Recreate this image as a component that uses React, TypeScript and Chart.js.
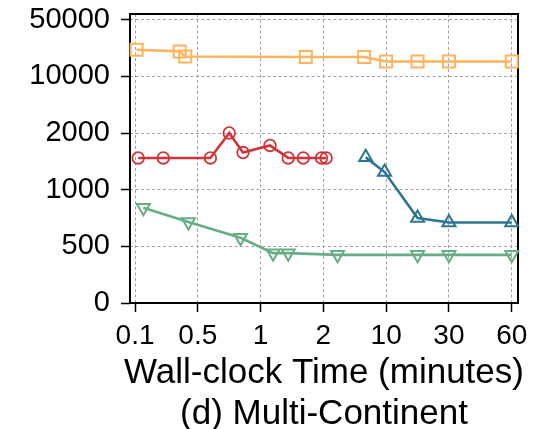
import React, { useEffect, useRef } from "react";
import { Chart, registerables, LinearScale } from "chart.js";

Chart.register(...registerables);

// ---- data ----
const X_TICKS = [0.1, 0.5, 1, 2, 10, 30, 60];
const Y_TICKS = [0, 500, 1000, 2000, 10000, 50000];

const TITLE_LINE1 = "Wall-clock Time (minutes)";
const TITLE_LINE2 = "(d) Multi-Continent";

const orangeX = [0.11, 0.385, 0.42, 1.72, 7.2, 10, 20, 30, 60];
const orangeY = [28800, 27600, 24000, 23600, 23600, 20500, 20500, 20500, 20500];

const redX = [0.12, 0.28, 0.6, 0.75, 0.86, 1.15, 1.44, 1.68, 1.97, 2.35];
const redY = [1560, 1560, 1560, 2000, 1655, 1780, 1560, 1560, 1560, 1560];

const tealX = [7.4, 9.8, 20, 30, 60];
const tealY = [1570, 1310, 750, 710, 710];

const greenX = [0.153, 0.44, 0.84, 1.2, 1.44, 3.8, 20, 30, 60];
const greenY = [840, 715, 575, 440, 440, 425, 425, 425, 425];

const BREAKS: Record<string, number[]> = { x: X_TICKS, y: Y_TICKS };

function toIdx(v: number, b: number[]): number {
  const n = b.length;
  if (v <= b[0]) return (v - b[0]) / (b[1] - b[0]);
  for (let i = 0; i < n - 1; i++) {
    if (v <= b[i + 1]) return i + (v - b[i]) / (b[i + 1] - b[i]);
  }
  return n - 1 + (v - b[n - 1]) / (b[n - 1] - b[n - 2]);
}
function fromIdx(t: number, b: number[]): number {
  const n = b.length;
  if (t <= 0) return b[0] + t * (b[1] - b[0]);
  if (t >= n - 1) return b[n - 1] + (t - (n - 1)) * (b[n - 1] - b[n - 2]);
  const i = Math.floor(t);
  return b[i] + (t - i) * (b[i + 1] - b[i]);
}

class PiecewiseScale extends LinearScale {
  static id = "piecewise";
  static defaults = {};
  buildTicks() {
    const s: any = this;
    const b = BREAKS[s.id];
    return b.filter((v) => v >= s.min - 1e-9 && v <= s.max + 1e-9).map((v) => ({ value: v }));
  }
  configure() {
    super.configure();
    const s: any = this;
    const b = BREAKS[s.id];
    s._startValue = toIdx(s.min, b);
    s._endValue = toIdx(s.max, b);
    s._valueRange = s._endValue - s._startValue;
  }
  getPixelForValue(v: number) {
    const s: any = this;
    if (v === null || v === undefined) return NaN;
    return s.getPixelForDecimal((toIdx(v, BREAKS[s.id]) - s._startValue) / s._valueRange);
  }
  getValueForPixel(p: number) {
    const s: any = this;
    return fromIdx(s._startValue + s.getDecimalForPixel(p) * s._valueRange, BREAKS[s.id]);
  }
}
Chart.register(PiecewiseScale as any);

const FONT = '"Liberation Sans", Arial, Helvetica, sans-serif';

const pts = (xs: number[], ys: number[]) => xs.map((x, i) => ({ x, y: ys[i] }));

const framePlugin = {
  id: "frameAndTitles",
  beforeDatasetsDraw(chart: any) {
    const { ctx, chartArea: a } = chart;
    ctx.save();
    ctx.strokeStyle = "#000";
    ctx.lineWidth = 2;
    ctx.strokeRect(a.left, a.top, a.right - a.left, a.bottom - a.top);
    ctx.restore();
  },
  afterDraw(chart: any) {
    const { ctx, chartArea: a } = chart;
    const cx = (a.left + a.right) / 2;
    ctx.save();
    ctx.fillStyle = "#000";
    ctx.font = `35px ${FONT}`;
    ctx.textAlign = "center";
    ctx.textBaseline = "alphabetic";
    ctx.fillText(TITLE_LINE1, cx, 383);
    ctx.fillText(TITLE_LINE2, cx, 424);
    ctx.restore();
  },
};

export default function App() {
  const ref = useRef<HTMLCanvasElement | null>(null);
  useEffect(() => {
    if (!ref.current) return;
    const gridCommon = {
      color: "#a3a3a3",
      lineWidth: 1,
      tickColor: "#000",
      tickLength: 9,
      tickWidth: 1.5,
      tickBorderDash: [],
    };
    const chart = new Chart(ref.current, {
      type: "line",
      data: {
        datasets: [
          {
            data: pts(orangeX, orangeY),
            borderColor: "#fdb45e",
            backgroundColor: "rgba(0,0,0,0)",
            pointStyle: "rect",
            pointRadius: 8.5,
            pointBorderWidth: 2,
            borderWidth: 2.6,
          },
          {
            data: pts(redX, redY),
            borderColor: "#d0343a",
            backgroundColor: "rgba(0,0,0,0)",
            pointStyle: "circle",
            pointRadius: 5.8,
            pointBorderWidth: 1.8,
            borderWidth: 2.6,
          },
          {
            data: pts(tealX, tealY),
            borderColor: "#2b7592",
            backgroundColor: "rgba(0,0,0,0)",
            pointStyle: "triangle",
            pointRadius: 7.5,
            pointBorderWidth: 2,
            borderWidth: 2.6,
          },
          {
            data: pts(greenX, greenY),
            borderColor: "#66ad85",
            backgroundColor: "rgba(0,0,0,0)",
            pointStyle: "triangle",
            rotation: 180,
            pointRotation: 180,
            pointRadius: 7.5,
            pointBorderWidth: 2,
            borderWidth: 2.6,
          } as any,
        ],
      },
      options: {
        animation: false,
        responsive: false,
        clip: false as any,
        layout: { padding: { left: 0, top: 14, right: 18, bottom: 0 } },
        plugins: { legend: { display: false }, tooltip: { enabled: false } },
        elements: { line: { tension: 0 } },
        scales: {
          x: {
            type: "piecewise" as any,
            min: 0.068,
            max: 63,
            grid: gridCommon as any,
            border: { display: false, dash: [3, 2.5] },
            ticks: {
              autoSkip: false,
              maxRotation: 0,
              padding: 7,
              color: "#000",
              font: { family: FONT, size: 28 },
              callback: (v: any) => String(v),
            },
            afterFit: (s: any) => {
              s.height = 126;
              s.paddingLeft = 0;
              s.paddingRight = 0;
            },
          } as any,
          y: {
            type: "piecewise" as any,
            min: 0,
            max: 54000,
            grid: gridCommon as any,
            border: { display: false, dash: [3, 2.5] },
            ticks: {
              autoSkip: false,
              padding: 11,
              color: "#000",
              font: { family: FONT, size: 29 },
              callback: (v: any) => String(v),
            },
            afterFit: (s: any) => {
              s.width = 130;
              s.paddingTop = 0;
              s.paddingBottom = 0;
            },
          } as any,
        },
      },
      plugins: [framePlugin],
    });
    return () => chart.destroy();
  }, []);
  return (
    <div style={{ position: "absolute", left: 0, top: 0, width: 536, height: 429, background: "#fff" }}>
      <canvas ref={ref} width={536} height={429} />
    </div>
  );
}
